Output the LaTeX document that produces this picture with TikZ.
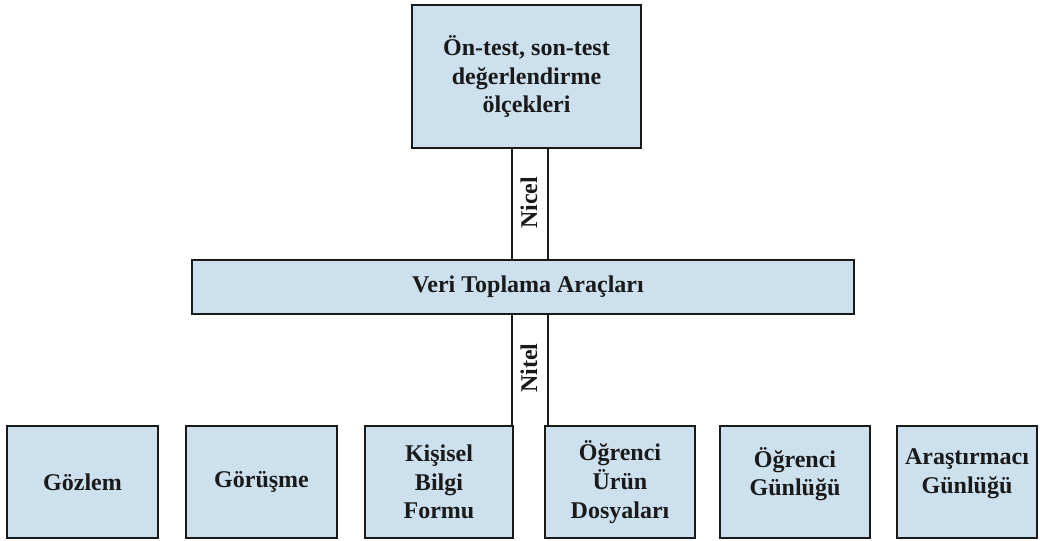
\documentclass[tikz,border=0pt]{standalone}
\usepackage{fontspec}
\setmainfont{Liberation Serif}
\definecolor{boxblue}{HTML}{CDE0EE}
\definecolor{ink}{HTML}{1A1A1A}
\begin{document}
\begin{tikzpicture}[x=0.75pt,y=-0.75pt,
  box/.style={draw=ink,fill=boxblue,line width=1.4pt,inner sep=0pt,outer sep=0pt,
    align=center,font=\bfseries\fontsize{18}{21.5}\selectfont,text=ink},
  strip/.style={draw=ink,line width=1.4pt},
  vlabel/.style={rotate=90,font=\bfseries\fontsize{18}{21.5}\selectfont,text=ink,inner sep=0pt}]
\useasboundingbox[fill=white] (0,0) rectangle (1040,541);
% top
\node[box,minimum width=171.75pt,minimum height=107.25pt] (top) at (526.5,76.5)
  {Ön-test, son-test\\değerlendirme\\ölçekleri};
% middle
\node[box,minimum width=496.5pt,minimum height=40.5pt] (mid) at (523,287) {};
\node[font=\bfseries\fontsize{18}{21.5}\selectfont,text=ink,inner sep=0pt] (midtxt) at (528,287) {Veri Toplama Araçları};
% bottom
\node[box,minimum width=113.25pt,minimum height=84pt] (b1) at (82.5,482) {Gözlem};
\node[box,minimum width=113.25pt,minimum height=84pt] (b2) at (261.5,482) {Görüşme};
\node[box,minimum width=111pt,minimum height=84pt] (b3) at (439,482) {Kişisel\\Bilgi\\Formu};
\node[box,minimum width=112.5pt,minimum height=84pt] (b4) at (620,482) {Öğrenci\\Ürün\\Dosyaları};
\node[box,minimum width=112.5pt,minimum height=84pt] (b5) at (795,482) {};
\node[font=\bfseries\fontsize{18}{21.5}\selectfont,text=ink,align=center,inner sep=0pt] (b5t) at (795,474) {Öğrenci\\Günlüğü};
\node[box,minimum width=105pt,minimum height=84pt] (b6) at (967,482) {};
\node[font=\bfseries\fontsize{18}{21.5}\selectfont,text=ink,align=center,inner sep=0pt] (b6t) at (967,474) {Araştırmacı\\Günlüğü};
% strips
\coordinate (sL) at (512,0);
\coordinate (sR) at (548,0);
\draw[strip] (sL |- top.south) -- (sL |- mid.north);
\draw[strip] (sR |- top.south) -- (sR |- mid.north);
\draw[strip] (sL |- mid.south) -- (sL |- b3.north);
\draw[strip] (sR |- mid.south) -- (sR |- b4.north);
\node[vlabel] (nicel) at (529,203) {Nicel};
\node[vlabel] (nitel) at (529,368) {Nitel};
\end{tikzpicture}
\end{document}
